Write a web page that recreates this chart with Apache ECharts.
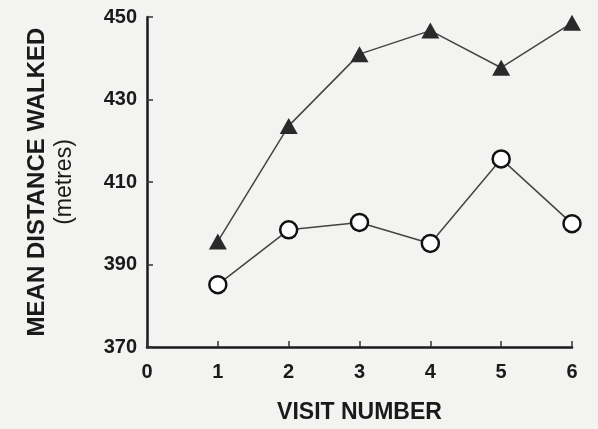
<!DOCTYPE html>
<html>
<head>
<meta charset="utf-8">
<script src="https://cdn.jsdelivr.net/npm/echarts@6/dist/echarts.min.js"></script>
<style>
  html, body { margin: 0; padding: 0; background: #f3f3f1; }
  #main { width: 598px; height: 429px; }
</style>
</head>
<body>
<div id="main"></div>
<script>
var visits = [1, 2, 3, 4, 5, 6];
var triangleValues = [395.6, 423.6, 441.0, 446.7, 437.7, 448.6];
var circleValues = [385.1, 398.4, 400.2, 395.1, 415.6, 399.9];

function pairs(vals) {
    return visits.map(function (v, i) { return [v, vals[i]]; });
}

var myChart = echarts.init(document.getElementById('main'));
var axisFont = 'Liberation Sans, Arial, sans-serif';
option = {
    backgroundColor: '#f3f3f1',
    animation: false,
    grid: { left: 147, right: 26, top: 17, bottom: 77 },
    xAxis: {
        type: 'value',
        min: 0,
        max: 6,
        interval: 1,
        name: 'VISIT NUMBER',
        nameLocation: 'middle',
        nameGap: 54,
        nameTextStyle: {
            fontFamily: 'Liberation Sans Narrow, Liberation Sans, Arial',
            fontWeight: 'bold',
            fontSize: 23,
            color: '#1a1a1a'
        },
        splitLine: { show: false },
        axisLine: { onZero: false, lineStyle: { color: '#1a1a1a', width: 2.5 } },
        axisTick: { inside: true, length: 6, lineStyle: { color: '#333', width: 1.5 } },
        axisLabel: { margin: 15, fontFamily: axisFont, fontWeight: 'bold', fontSize: 20, color: '#1a1a1a' }
    },
    yAxis: {
        type: 'value',
        min: 370,
        max: 450,
        interval: 20,
        name: '{a|MEAN DISTANCE WALKED}\n{b|(metres)}',
        nameLocation: 'middle',
        nameGap: 69,
        nameTextStyle: {
            color: '#1a1a1a',
            rich: {
                a: { fontFamily: axisFont, fontWeight: 'bold', fontSize: 24, lineHeight: 27, color: '#1a1a1a' },
                b: { fontFamily: axisFont, fontSize: 23, lineHeight: 27, color: '#1a1a1a' }
            }
        },
        splitLine: { show: false },
        axisLine: { show: true, lineStyle: { color: '#1a1a1a', width: 2.5 } },
        axisTick: { show: true, inside: true, length: 6, lineStyle: { color: '#333', width: 1.5 } },
        axisLabel: { margin: 10, fontFamily: axisFont, fontWeight: 'bold', fontSize: 20, color: '#1a1a1a' }
    },
    series: [
        {
            name: 'triangle',
            type: 'line',
            data: pairs(triangleValues),
            symbol: 'triangle',
            symbolSize: [18, 16],
            lineStyle: { color: '#444', width: 1.5 },
            itemStyle: { color: '#2a2a2a', borderWidth: 0 }
        },
        {
            name: 'circle',
            type: 'line',
            data: pairs(circleValues),
            symbol: 'circle',
            symbolSize: 17,
            lineStyle: { color: '#444', width: 1.5 },
            itemStyle: { color: '#ffffff', borderColor: '#111', borderWidth: 2.5 }
        }
    ]
};

myChart.setOption(option);
</script>
</body>
</html>
